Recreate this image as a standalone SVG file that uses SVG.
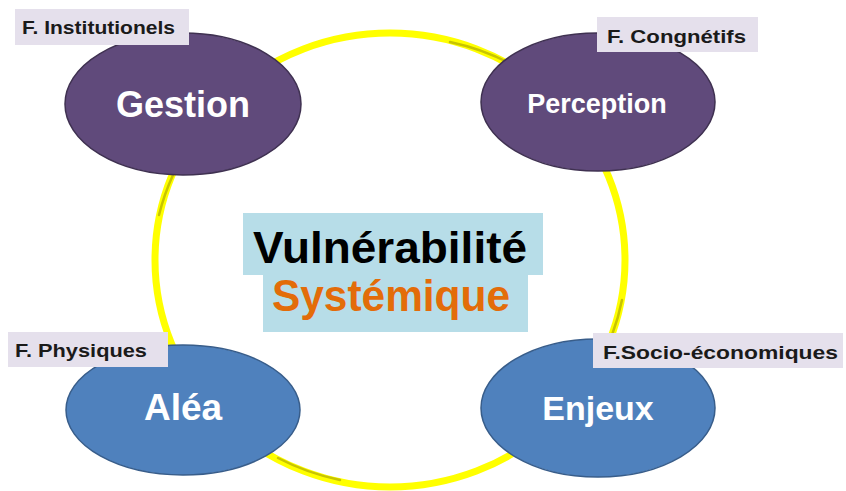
<svg xmlns="http://www.w3.org/2000/svg" width="846" height="491" viewBox="0 0 846 491">
<style>
.lbl{fill:#e5e0ec}
.lt{font-family:"Liberation Sans",Arial,sans-serif;font-weight:bold;font-size:19px;fill:#1a1a1a}
.nt{font-family:"Liberation Sans",Arial,sans-serif;font-weight:bold;fill:#ffffff;text-anchor:middle}
.purple{fill:#604a7b;stroke:#3f3151;stroke-width:1.5}
.blue{fill:#4f81bd;stroke:#385d8a;stroke-width:1.5}
.ct{font-family:"Liberation Sans",Arial,sans-serif;font-weight:bold;font-size:44px}
.shade{fill:none;stroke:#c8c400;stroke-width:2.5;stroke-linecap:round}
</style>
<g id="ring">
<ellipse cx="390" cy="260" rx="235" ry="227" fill="none" stroke="#ffff00" stroke-width="7"/>
<path class="shade" d="M 450 42 A 233 225 0 0 1 515 66"/>
<path class="shade" d="M 173 175 A 236 228 0 0 0 159 215"/>
<path class="shade" d="M 622 300 A 236 228 0 0 1 612 335"/>
<path class="shade" d="M 278 458 A 233 225 0 0 0 340 480"/>
</g>
<g id="center">
<rect x="243" y="213" width="300" height="62" fill="#b7dde8"/>
<rect x="263" y="274" width="265" height="58" fill="#b7dde8"/>
<text class="ct" x="253" y="263" fill="#000000" textLength="274" lengthAdjust="spacingAndGlyphs">Vulnérabilité</text>
<text class="ct" x="272" y="311" fill="#e36c09" font-size="46" textLength="238" lengthAdjust="spacingAndGlyphs">Systémique</text>
</g>
<g id="gestion">
<ellipse class="purple" cx="183" cy="104" rx="118" ry="71"/>
<text class="nt" x="183" y="117" font-size="36">Gestion</text>
<rect class="lbl" x="15" y="9" width="174" height="36"/>
<text class="lt" x="22" y="34" textLength="153" lengthAdjust="spacingAndGlyphs">F. Institutionels</text>
</g>
<g id="perception">
<ellipse class="purple" cx="598" cy="102" rx="117" ry="69"/>
<text class="nt" x="597" y="113" font-size="27">Perception</text>
<rect class="lbl" x="597" y="17" width="161" height="35"/>
<text class="lt" x="607" y="43" textLength="139" lengthAdjust="spacingAndGlyphs">F. Congnétifs</text>
</g>
<g id="alea">
<ellipse class="blue" cx="183" cy="410" rx="117" ry="65"/>
<text class="nt" x="183" y="420" font-size="37">Aléa</text>
<rect class="lbl" x="8" y="332" width="160" height="35"/>
<text class="lt" x="15" y="357" textLength="132" lengthAdjust="spacingAndGlyphs">F. Physiques</text>
</g>
<g id="enjeux">
<ellipse class="blue" cx="598" cy="408" rx="117" ry="69"/>
<text class="nt" x="598" y="420" font-size="34">Enjeux</text>
<rect class="lbl" x="593" y="333" width="250" height="35"/>
<text class="lt" x="603" y="359" textLength="235" lengthAdjust="spacingAndGlyphs">F.Socio-économiques</text>
</g>
</svg>
